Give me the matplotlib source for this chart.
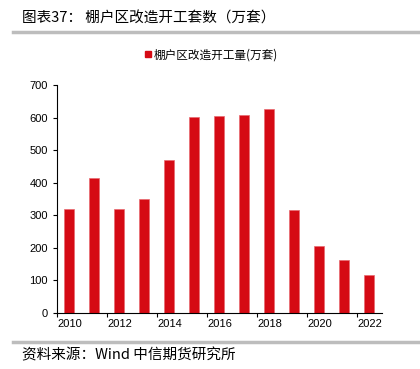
import matplotlib
matplotlib.use("Agg")
import matplotlib.pyplot as plt
from matplotlib.lines import Line2D

plt.rcParams['font.family'] = ['Noto Sans CJK SC', 'DejaVu Sans']

years = ["2010", "2011", "2012", "2013", "2014", "2015", "2016",
         "2017", "2018", "2019", "2020", "2021", "2022"]
values = [319, 415, 318, 350, 469, 601, 605, 609, 626, 316, 207, 163, 118]
series_name = "棚户区改造开工量(万套)"

fig = plt.figure(figsize=(4.2, 3.69), dpi=100)
ax = fig.add_axes([0.1357, 0.1518, 0.7738, 0.6178])

x = list(range(len(years)))
ax.bar(x, values, width=0.4, color="#D50A14", edgecolor="#E86A70", linewidth=0.5)

ax.set_xlim(-0.5, len(years) - 0.5)
ax.set_ylim(0, 700)
ax.set_yticks(range(0, 701, 100))
ax.tick_params(axis="y", labelsize=8, length=3, width=0.8)
for lab in ax.get_yticklabels():
    lab.set_family("Liberation Sans")

# labels every other year, ticks between categories
ax.set_xticks(x[::2])
ax.set_xticklabels(years[::2], fontsize=8, family="Liberation Sans")
ax.tick_params(axis="x", length=0, pad=4)
ax.set_xticks([i - 0.5 for i in range(0, len(years), 2)], minor=True)
ax.tick_params(axis="x", which="minor", length=3, width=0.8)

for s in ["top", "right"]:
    ax.spines[s].set_visible(False)
ax.spines["left"].set_linewidth(0.8)
ax.spines["bottom"].set_linewidth(0.8)

handle = Line2D([], [], marker="s", linestyle="", color="#D50A14", markersize=4.5)
fig.legend([handle], [series_name], loc="center", bbox_to_anchor=(0.503, 0.851),
           frameon=False, fontsize=8.4, handletextpad=0.2, handlelength=0.6)

fig.text(0.052, 0.951, "图表37： 棚户区改造开工套数（万套）", fontsize=10.5,
         va="center", ha="left")
fig.add_artist(Line2D([0.03, 1.0], [0.912, 0.912], color="#BDBDBD", linewidth=2.5))
fig.add_artist(Line2D([0.03, 1.0], [0.073, 0.073], color="#BDBDBD", linewidth=2.5))
fig.text(0.052, 0.036, "资料来源：Wind 中信期货研究所", fontsize=10.5,
         va="center", ha="left")

fig.savefig("out.png", dpi=100)
